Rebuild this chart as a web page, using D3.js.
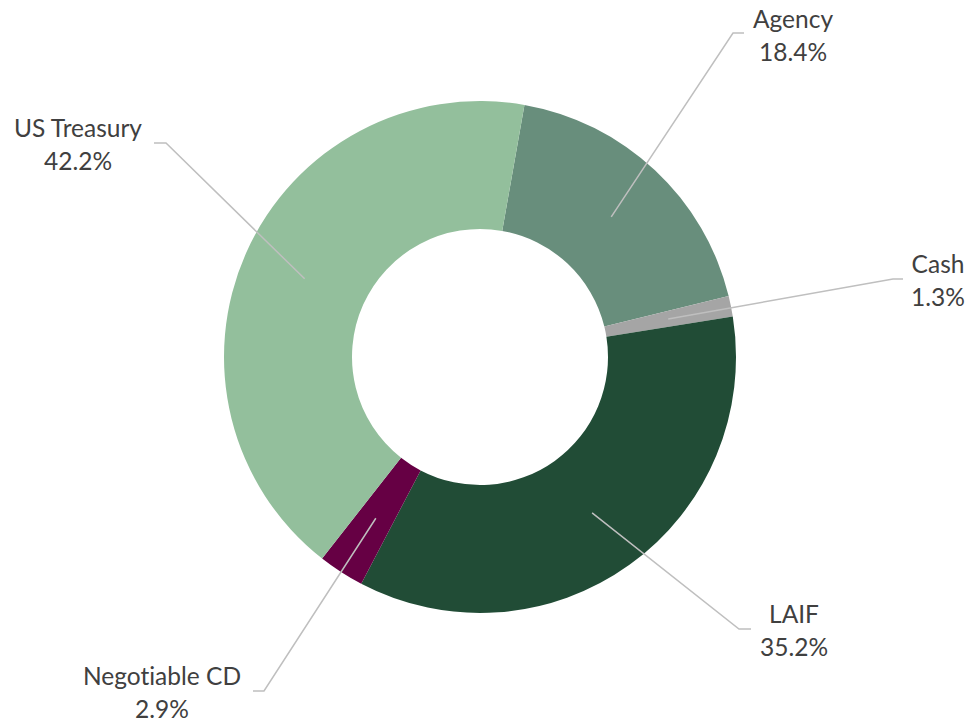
<!DOCTYPE html>
<html>
<head>
<meta charset="utf-8">
<script src="https://cdn.jsdelivr.net/npm/d3@7"></script>
<style>
  html, body { margin: 0; padding: 0; background: #ffffff; }
  svg { display: block; }
  text { font-variant-ligatures: none; font-feature-settings: "liga" 0; }
</style>
</head>
<body>
<svg id="chart" width="972" height="725"></svg>
<script>
// ---- Data ----
const categories = ["Agency", "Cash", "LAIF", "Negotiable CD", "US Treasury"];
const values = [18.4, 1.3, 35.2, 2.9, 42.2];
const valueLabels = ["18.4%", "1.3%", "35.2%", "2.9%", "42.2%"];

// ---- Styles / layout ----
const colors = ["#688E7C", "#A5A5A5", "#214C36", "#660044", "#93BF9C"];
const W = 972, H = 725;
const cx = 480, cy = 357, outerR = 256, innerR = 128;
const startDeg = 10;
// label layout: elbow point, end of horizontal segment, text centre (relative to chart centre)
const labelLayout = [
  { elbow: [253, -324], end: [264, -324], text: [313, -339] },
  { elbow: [413, -78], end: [423, -78], text: [458, -94] },
  { elbow: [259, 272], end: [271, 272], text: [314, 256] },
  { elbow: [-216, 334], end: [-227, 334], text: [-318, 318] },
  { elbow: [-314, -214], end: [-326, -214], text: [-402, -230] }
];
const lineGap = 33;
const fontSize = 24.5;

const svg = d3.select("#chart");
const g = svg.append("g").attr("transform", `translate(${cx},${cy})`);

const pie = d3.pie().sort(null).value(d => d)
  .startAngle(startDeg * Math.PI / 180)
  .endAngle(startDeg * Math.PI / 180 + 2 * Math.PI);
const arcs = pie(values);
const arc = d3.arc().innerRadius(innerR).outerRadius(outerR);

g.selectAll("path.slice").data(arcs).join("path")
  .attr("class", "slice")
  .attr("d", arc)
  .attr("fill", (d, i) => colors[i]);

// leader lines
g.selectAll("polyline.leader").data(arcs).join("polyline")
  .attr("class", "leader")
  .attr("fill", "none")
  .attr("stroke", "#BFBFBF")
  .attr("stroke-width", 1.5)
  .attr("points", (d, i) => {
    const c = arc.centroid(d);
    const L = labelLayout[i];
    return [c, L.elbow, L.end].map(p => p.join(",")).join(" ");
  });

// labels
const lab = g.selectAll("g.label").data(arcs).join("g")
  .attr("class", "label")
  .attr("transform", (d, i) => `translate(${labelLayout[i].text[0]},${labelLayout[i].text[1]})`);
lab.append("text")
  .attr("text-anchor", "middle")
  .attr("dominant-baseline", "central")
  .attr("font-family", "Lato, 'Open Sans', sans-serif")
  .attr("font-size", fontSize)
  .attr("fill", "#404040")
  .text((d, i) => categories[i]);
lab.append("text")
  .attr("text-anchor", "middle")
  .attr("dominant-baseline", "central")
  .attr("y", lineGap)
  .attr("font-family", "Lato, 'Open Sans', sans-serif")
  .attr("font-size", fontSize)
  .attr("fill", "#404040")
  .text((d, i) => valueLabels[i]);
</script>
</body>
</html>
